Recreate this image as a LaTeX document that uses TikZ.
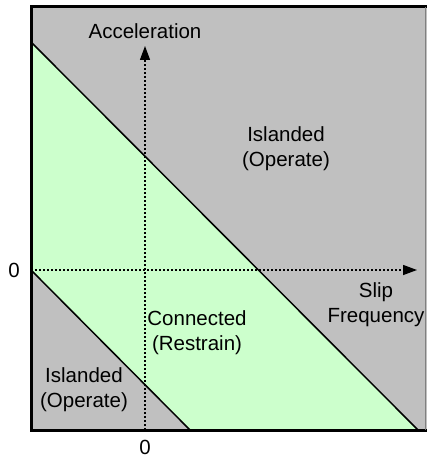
\documentclass[tikz,border=0pt]{standalone}
\usepackage{fontspec}
\setmainfont{Liberation Sans}
\usetikzlibrary{arrows.meta}
\definecolor{islandgray}{HTML}{C0C0C0}
\definecolor{restraingreen}{HTML}{CCFFCC}

\begin{document}
\begin{tikzpicture}[x=1pt, y=-1pt,
    lbl/.style={align=center, inner sep=0pt, font=\fontsize{20.5}{25}\selectfont},
    axis/.style={dash pattern=on 2pt off 2pt, line width=1.3pt,
      -{Triangle[length=14pt, width=10pt]}}]
  \useasboundingbox (0, 0) rectangle (426, 457);

  \coordinate (tl) at (31, 42);
  \coordinate (br) at (418, 430);
  \coordinate (ml) at (31, 270);
  \coordinate (mb) at (190, 430);
  \coordinate (vaxis) at (145, 430);
  \coordinate (vtip) at (145, 46);
  \coordinate (htip) at (417, 270);

  \filldraw[fill=islandgray, draw=none] (31, 7) rectangle (427, 430);
  \filldraw[fill=restraingreen, draw=none] (tl) -- (br) -- (mb) -- (ml) -- cycle;
  \draw[line width=1.5pt] (tl) -- (br);
  \draw[line width=1.5pt] (ml) -- (mb);

  \draw[axis] (vaxis) -- (vtip);
  \draw[axis] (ml) -- (htip);

  \draw[line width=3pt] (426.5, 7) -- (31, 7) -- (31, 430) -- (426.5, 430);
  \draw[line width=1pt, gray] (425.5, 7) -- (425.5, 430);

  \node[lbl] (acc) at (145, 31) {Acceleration};
  \node[lbl] (zeroy) at (14, 270) {0};
  \node[lbl] (zerox) at (145, 447) {0};
  \node[lbl] (slip) at (376, 305) {Slip\\Frequency};
  \node[lbl] (islandup) at (286, 149) {Islanded\\(Operate)};
  \node[lbl] (connected) at (197, 333) {Connected\\(Restrain)};
  \node[lbl] (islandlow) at (84, 390) {Islanded\\(Operate)};
\end{tikzpicture}
\end{document}
